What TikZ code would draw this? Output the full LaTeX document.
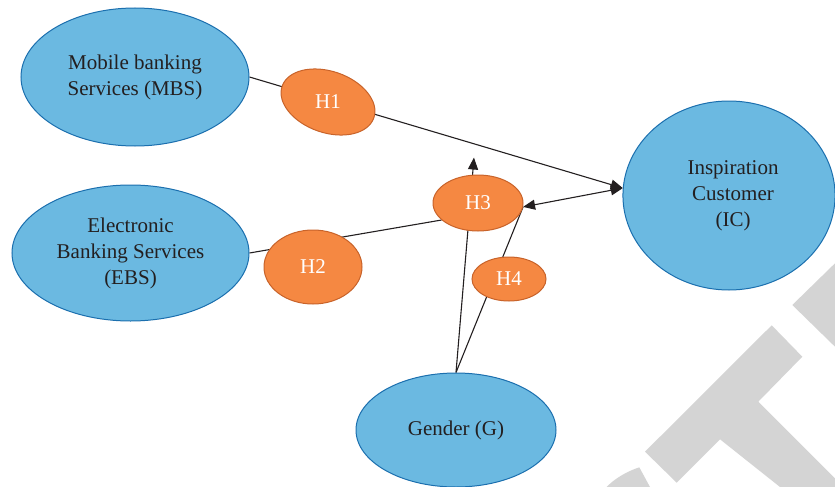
\documentclass[tikz,border=0pt]{standalone}
\usepackage{fontspec}
\setmainfont{Liberation Serif}
\usetikzlibrary{shapes.geometric,arrows.meta,calc}
\definecolor{bluefill}{HTML}{6BB9E1}
\definecolor{blueline}{HTML}{1B6FAE}
\definecolor{orfill}{HTML}{F58842}
\definecolor{orline}{HTML}{C8632A}
\definecolor{ink}{HTML}{231F20}
\definecolor{wm}{HTML}{D4D4D4}
\pgfdeclarelayer{back}
\pgfsetlayers{back,main}
\begin{document}
\begin{tikzpicture}[x=1pt,y=-1pt,
  var/.style={ellipse, draw=blueline, fill=bluefill, line width=1pt, inner sep=0pt, align=center, text=ink, font=\fontsize{21}{26}\selectfont},
  hyp/.style={ellipse, draw=orline, fill=orfill, line width=1pt, inner sep=0pt, text=white, font=\fontsize{21}{24}\selectfont},
  htxt/.style={text=white, font=\fontsize{21}{24}\selectfont, inner sep=0pt},
  link/.style={draw=ink, line width=1.1pt},
  tri/.tip={Triangle[length=12pt,width=10pt]}
]
\useasboundingbox (0,0) rectangle (835,487);

% main variables
\node[var, minimum width=228pt, minimum height=138pt] (MBS) at (135,77) {Mobile banking\\Services (MBS)};
\node[var, minimum width=237pt, minimum height=136pt] (EBS) at (130.5,253) {Electronic\\Banking Services\\(EBS)};
\node[var, minimum width=212pt, minimum height=189pt, text width=150pt, xshift=0pt] (IC) at (729,195.5) {\hspace*{8pt}Inspiration\\\hspace*{8pt}Customer\\\hspace*{8pt}(IC)};
\node[var, minimum width=200pt, minimum height=114pt] (G) at (456,430) {Gender (G)};

% hypotheses
\node[hyp, minimum width=97pt, minimum height=61.4pt, rotate=-19] (H1) at (328,102) {};
\node[htxt] (H1t) at (H1.center) {H1};
\node[hyp, minimum width=98pt, minimum height=74pt] (H2) at (313,267) {H2};
\node[hyp, minimum width=90pt, minimum height=56pt] (H3) at (478,203) {H3};
\node[hyp, minimum width=74pt, minimum height=44pt] (H4) at (509,279) {H4};

\coordinate (H3up) at ($(H3.north)+(-4,-17)$);

\begin{pgfonlayer}{back}
  % watermark
  \fill[wm] (645,451.7) -- (771.7,325.3) -- (802.3,356.7) -- (758.3,401.7) -- (835,478.3) -- (835,487) -- (780,487) -- (720,439.3) -- (676.7,482.7) -- cycle;
  \fill[wm] (792.3,305) -- (835,263.3) -- (835,346.7) -- cycle;
  \fill[wm] (606.7,487) .. controls (615,478) and (628,471) .. (639.3,467.3) -- (650,487) -- cycle;
  % connectors
  \draw[link, -tri] (MBS.east) -- (IC.176);
  \draw[link] (EBS.east) -- (H3.205);
  \draw[link, -tri] (G.north) -- (H3up);
  \draw[link] (G.north) -- (H3.355);
  \draw[link, tri-tri] (H3.355) -- (IC.176);
\end{pgfonlayer}
\end{tikzpicture}
\end{document}
